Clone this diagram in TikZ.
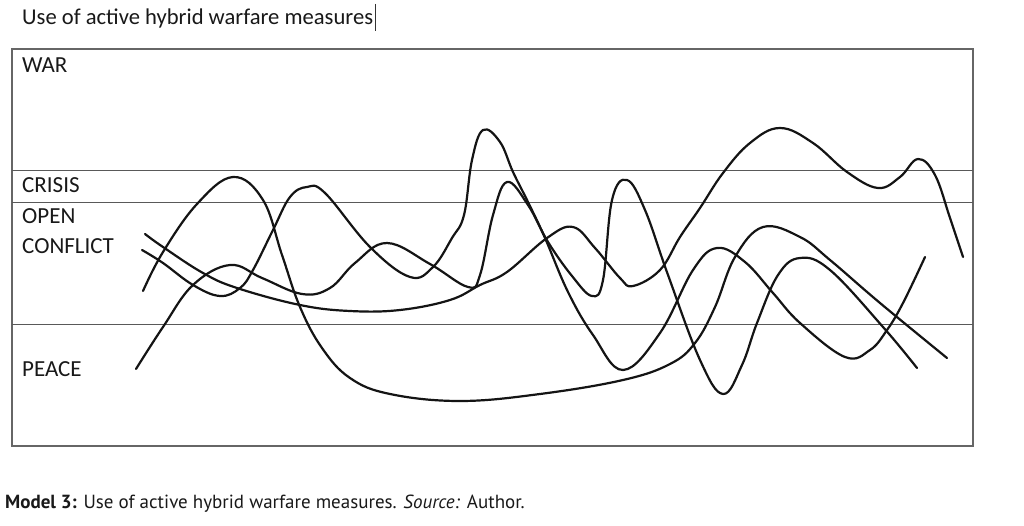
\documentclass[tikz,border=0pt]{standalone}
\usepackage{fontspec}
\setmainfont{Carlito}
\newfontfamily\capfont{PT Sans}
\begin{document}
\begin{tikzpicture}[x=1pt,y=-1pt,
  curve/.style={line width=2.2pt, black!92, line cap=round, line join=round},
  band/.style={line width=1pt, black!65},
  frame/.style={line width=1.1pt, black!60},
  lab/.style={anchor=base west, inner sep=0pt, font=\fontsize{23}{26}\selectfont, text=black!90}]
\useasboundingbox (0,0) rectangle (1024,526);
\fill[white] (0,0) rectangle (1024,526);
% title
\node[anchor=base west, inner sep=0pt, font=\fontsize{22.6}{26}\selectfont, text=black!90] (title) at (22,25) {Use of active hybrid warfare measures};
\coordinate (curtop) at (375,4);
\coordinate (curbot) at (375,31);
\draw[line width=0.8pt, black!80] (curtop) -- (curbot);
% frame and bands
\coordinate (bl) at (12,446);
\coordinate (tr) at (973,49);
\draw[frame] (bl) rectangle (tr);
\coordinate (c1) at (12,171); \coordinate (c2) at (973,171);
\coordinate (o1) at (12,203); \coordinate (o2) at (973,203);
\coordinate (p1) at (12,324); \coordinate (p2) at (973,324);
\draw[band] (c1) -- (c2);
\draw[band] (o1) -- (o2);
\draw[band] (p1) -- (p2);
% labels
\node[lab] (war) at (22,73) {WAR};
\node[lab] (crisis) at (22,193) {CRISIS};
\node[lab] (open) at (22,224) {OPEN};
\node[lab] (conflict) at (22,254) {CONFLICT};
\node[lab] (peace) at (22,376) {PEACE};
% curve A
\draw[curve] plot[smooth, tension=0.65] coordinates {
 (143,291) (163,252) (197,204) (233,177) (263,200) (282,255) (300,307) (322,348) (350,378) (390,394) (460,401) (540,394) (623,380) (670,364) (695,343) (715,307) (735,257) (763,227) (800,237) (830,260) (880,303) (947,358)};
% curve B
\draw[curve] plot[smooth, tension=0.65] coordinates {
 (136,369) (163,327) (193,285) (230,265) (262,278) (302,294) (330,288) (355,263) (387,243) (430,264) (468,287) (480,275) (493,215) (507,182) (528,205) (548,242) (572,276) (592,296) (603,280) (612,200) (627,180) (645,210) (668,275) (700,360) (723,394) (742,365) (757,323) (778,275) (800,258) (830,270) (883,327) (917,368)};
% curve C
\draw[curve] plot[smooth, tension=0.65] coordinates {
 (142,250) (163,263) (193,285) (220,296) (240,288) (253,270) (273,230) (290,197) (307,187) (325,193) (370,247) (410,277) (433,267) (452,238) (464,215) (472,160) (483,130) (500,142) (513,172) (528,202) (545,238) (568,292) (593,335) (623,370) (660,333) (693,270) (717,248) (745,262) (773,293) (800,323) (845,357) (870,350) (887,330) (903,303) (925,257)};
% curve D
\draw[curve] plot[smooth, tension=0.65] coordinates {
 (145,234) (163,247) (203,273) (237,288) (300,305) (350,311) (400,310) (450,300) (480,285) (507,272) (547,238) (573,227) (595,248) (620,278) (633,286) (660,270) (680,237) (700,208) (723,173) (750,143) (780,128) (813,143) (847,172) (878,188) (900,177) (918,159) (935,175) (950,218) (963,257)};
% caption
\node[anchor=base west, inner sep=0pt, font=\capfont\fontsize{19}{22}\selectfont, text=black!90] (caption) at (5,508) {\textbf{Model 3:} Use of active hybrid warfare measures. \textit{Source:} Author.};
\end{tikzpicture}
\end{document}
